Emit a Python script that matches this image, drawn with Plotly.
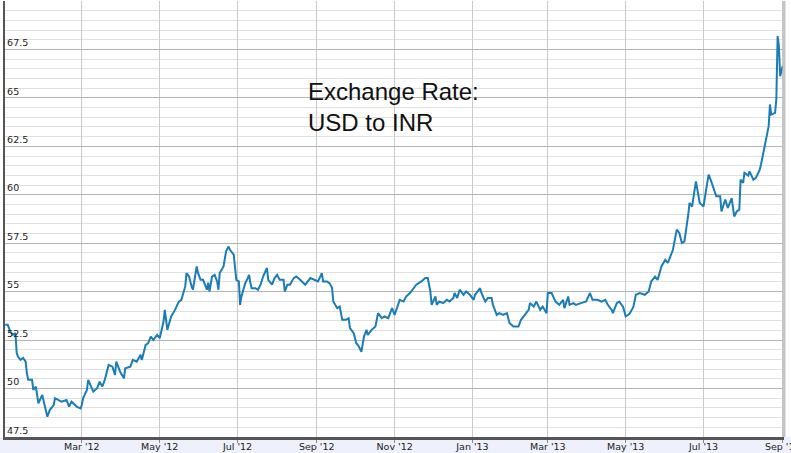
import plotly.graph_objects as go

dates = [
    "2012-01-01", "2012-01-03", "2012-01-05", "2012-01-07", "2012-01-09", "2012-01-10", "2012-01-11",
    "2012-01-13", "2012-01-15", "2012-01-17", "2012-01-18", "2012-01-19", "2012-01-22", "2012-01-23",
    "2012-01-25", "2012-01-26", "2012-01-27", "2012-01-30", "2012-01-31", "2012-02-03", "2012-02-05",
    "2012-02-08", "2012-02-09", "2012-02-12", "2012-02-14", "2012-02-18", "2012-02-20", "2012-02-22",
    "2012-02-26", "2012-02-29", "2012-03-01", "2012-03-02", "2012-03-05", "2012-03-06", "2012-03-09",
    "2012-03-10", "2012-03-13", "2012-03-15", "2012-03-17", "2012-03-19", "2012-03-22", "2012-03-25",
    "2012-03-27", "2012-03-28", "2012-03-31", "2012-04-03", "2012-04-04", "2012-04-08", "2012-04-10",
    "2012-04-13", "2012-04-16", "2012-04-17", "2012-04-20", "2012-04-22", "2012-04-24", "2012-04-26",
    "2012-04-29", "2012-05-01", "2012-05-04", "2012-05-05", "2012-05-07", "2012-05-10", "2012-05-13",
    "2012-05-16", "2012-05-18", "2012-05-21", "2012-05-22", "2012-05-24", "2012-05-26", "2012-05-27",
    "2012-05-30", "2012-05-31", "2012-06-02", "2012-06-04", "2012-06-07", "2012-06-08", "2012-06-09",
    "2012-06-11", "2012-06-13", "2012-06-15", "2012-06-16", "2012-06-17", "2012-06-20", "2012-06-22",
    "2012-06-24", "2012-06-25", "2012-06-28", "2012-06-30", "2012-07-02", "2012-07-03", "2012-07-04",
    "2012-07-07", "2012-07-09", "2012-07-10", "2012-07-11", "2012-07-12", "2012-07-15", "2012-07-17",
    "2012-07-19", "2012-07-21", "2012-07-24", "2012-07-25", "2012-07-28", "2012-07-30", "2012-08-01",
    "2012-08-03", "2012-08-06", "2012-08-07", "2012-08-09", "2012-08-11", "2012-08-14", "2012-08-16",
    "2012-08-19", "2012-08-23", "2012-08-27", "2012-08-31", "2012-09-02", "2012-09-05", "2012-09-06",
    "2012-09-09", "2012-09-11", "2012-09-13", "2012-09-14", "2012-09-17", "2012-09-19", "2012-09-21",
    "2012-09-24", "2012-09-26", "2012-09-27", "2012-09-30", "2012-10-02", "2012-10-04", "2012-10-05",
    "2012-10-06", "2012-10-08", "2012-10-10", "2012-10-11", "2012-10-14", "2012-10-17", "2012-10-19",
    "2012-10-22", "2012-10-24", "2012-10-27", "2012-10-30", "2012-11-01", "2012-11-05", "2012-11-08",
    "2012-11-10", "2012-11-13", "2012-11-16", "2012-11-18", "2012-11-22", "2012-11-25", "2012-11-27",
    "2012-11-29", "2012-11-30", "2012-12-03", "2012-12-04", "2012-12-06", "2012-12-09", "2012-12-12",
    "2012-12-14", "2012-12-17", "2012-12-18", "2012-12-20", "2012-12-22", "2012-12-25", "2012-12-27",
    "2012-12-30", "2013-01-02", "2013-01-03", "2013-01-07", "2013-01-08", "2013-01-11", "2013-01-13",
    "2013-01-16", "2013-01-17", "2013-01-20", "2013-01-22", "2013-01-25", "2013-01-28", "2013-01-30",
    "2013-02-02", "2013-02-06", "2013-02-08", "2013-02-11", "2013-02-14", "2013-02-15", "2013-02-18",
    "2013-02-20", "2013-02-23", "2013-02-25", "2013-02-28", "2013-03-01", "2013-03-04", "2013-03-07",
    "2013-03-10", "2013-03-13", "2013-03-14", "2013-03-17", "2013-03-18", "2013-03-21", "2013-03-23",
    "2013-03-27", "2013-03-31", "2013-04-03", "2013-04-05", "2013-04-09", "2013-04-12", "2013-04-15",
    "2013-04-17", "2013-04-20", "2013-04-21", "2013-04-24", "2013-04-26", "2013-04-29", "2013-05-01",
    "2013-05-04", "2013-05-07", "2013-05-09", "2013-05-12", "2013-05-16", "2013-05-19", "2013-05-21",
    "2013-05-24", "2013-05-26", "2013-05-29", "2013-06-01", "2013-06-03", "2013-06-05", "2013-06-07",
    "2013-06-10", "2013-06-12", "2013-06-14", "2013-06-16", "2013-06-19", "2013-06-20", "2013-06-22",
    "2013-06-23", "2013-06-25", "2013-06-28", "2013-07-01", "2013-07-03", "2013-07-05", "2013-07-07",
    "2013-07-09", "2013-07-11", "2013-07-14", "2013-07-15", "2013-07-18", "2013-07-20", "2013-07-23",
    "2013-07-25", "2013-07-27", "2013-07-29", "2013-07-30", "2013-08-01", "2013-08-02", "2013-08-05",
    "2013-08-06", "2013-08-09", "2013-08-11", "2013-08-14", "2013-08-15", "2013-08-18", "2013-08-19",
    "2013-08-21", "2013-08-22", "2013-08-23", "2013-08-26", "2013-08-27", "2013-08-28", "2013-08-29",
    "2013-08-30", "2013-08-31", "2013-09-01",
]

usd_inr = [
    53.29, 53.29, 52.94, 52.77, 52.87, 51.83, 51.65,
    51.48, 51.58, 51.39, 50.79, 50.45, 50.45, 49.93,
    50.10, 49.58, 49.24, 49.67, 49.41, 48.55, 48.90,
    49.15, 49.50, 49.41, 49.32, 49.41, 49.07, 49.32,
    49.07, 48.98, 49.15, 49.50, 49.93, 50.45, 49.93,
    49.84, 50.02, 50.36, 50.10, 50.45, 51.22, 51.13,
    50.70, 51.39, 50.87, 50.53, 51.05, 51.13, 51.48,
    51.39, 51.74, 51.48, 52.25, 52.34, 52.68, 52.51,
    52.77, 52.60, 53.46, 54.06, 53.03, 53.72, 54.06,
    54.49, 54.58, 55.27, 55.96, 55.78, 55.27, 55.10,
    56.30, 55.98, 55.61, 55.61, 55.10, 55.46, 55.01,
    55.78, 55.87, 55.53, 55.10, 55.96, 56.30, 57.08,
    57.33, 57.16, 56.91, 55.61, 55.53, 54.32, 54.75,
    55.44, 55.70, 55.87, 55.46, 55.18, 55.18, 55.10,
    55.36, 55.78, 56.22, 55.61, 55.36, 55.70, 55.87,
    55.61, 55.61, 55.01, 55.36, 55.36, 55.70, 55.78,
    55.61, 55.36, 55.70, 55.61, 55.53, 55.96, 55.53,
    55.53, 55.44, 55.20, 54.49, 54.15, 54.23, 53.55,
    53.55, 53.63, 53.12, 52.86, 52.34, 52.17, 52.00,
    51.89, 52.68, 53.03, 52.77, 53.03, 53.20, 53.89,
    53.63, 53.72, 53.63, 54.15, 53.80, 54.58, 54.49,
    54.75, 54.93, 55.18, 55.36, 55.53, 55.70, 55.70,
    55.01, 54.32, 54.75, 54.32, 54.49, 54.41, 54.58,
    54.49, 54.67, 54.93, 54.67, 55.10, 54.84, 55.01,
    54.84, 54.58, 54.84, 55.18, 54.93, 54.49, 54.67,
    54.67, 54.32, 53.80, 53.89, 53.80, 53.89, 53.38,
    53.20, 53.20, 53.55, 53.80, 54.06, 54.41, 54.23,
    54.49, 54.06, 54.23, 53.89, 54.93, 54.93, 54.49,
    54.32, 54.58, 54.15, 54.75, 54.32, 54.41, 54.32,
    54.41, 54.49, 54.93, 54.58, 54.58, 54.49, 54.58,
    54.32, 54.06, 53.89, 54.41, 54.49, 54.21, 53.72,
    53.86, 54.21, 54.84, 54.93, 54.84, 55.01, 55.53,
    55.78, 55.61, 56.30, 56.65, 56.48, 56.82, 57.16,
    58.20, 58.03, 57.51, 57.59, 58.97, 59.58, 59.39,
    59.75, 60.69, 59.58, 59.40, 60.27, 61.04, 60.69,
    60.35, 59.92, 59.92, 59.14, 59.75, 59.32, 59.83,
    58.88, 59.14, 59.23, 60.78, 60.61, 61.13, 60.99,
    61.21, 60.78, 60.87, 61.30, 61.56, 62.50, 62.85,
    63.54, 64.66, 64.14, 64.23, 64.92, 68.19, 67.67,
    66.12, 66.38, 66.64,
]

x_ticks = ["2012-01-01", "2012-03-01", "2012-05-01", "2012-07-01", "2012-09-01", "2012-11-01",
           "2013-01-01", "2013-03-01", "2013-05-01", "2013-07-01", "2013-09-01"]
x_tick_labels = ["Jan '12", "Mar '12", "May '12", "Jul '12", "Sep '12", "Nov '12",
                 "Jan '13", "Mar '13", "May '13", "Jul '13", "Sep '13"]
y_ticks = [47.5, 50, 52.5, 55, 57.5, 60, 62.5, 65, 67.5]
y_tick_labels = ["47.5", "50", "52.5", "55", "57.5", "60", "62.5", "65", "67.5"]
x_range = ["2011-12-31 20:00", "2013-09-02"]
y_range = [47.5, 70]
title_text = "Exchange Rate:<br>USD to INR"

fig = go.Figure()
fig.add_trace(go.Scatter(
    x=dates, y=usd_inr, mode="lines",
    line=dict(color="#1b7db5", width=2),
    hoverinfo="x+y", showlegend=False,
))

fig.update_layout(
    width=791, height=453,
    margin=dict(l=5, r=7, t=1, b=16),
    paper_bgcolor="white",
    plot_bgcolor="white",
    font=dict(family="DejaVu Sans", size=9.5, color="#222222"),
    xaxis=dict(
        type="date", range=x_range,
        tickmode="array", tickvals=x_ticks, ticktext=x_tick_labels,
        showgrid=True, gridcolor="#c9c9c9", gridwidth=1,
        showline=True, linecolor="#555555", linewidth=3,
        ticks="outside", ticklen=3, tickcolor="#888888",
        ticklabelstandoff=-4, ticklabeloverflow="allow",
        zeroline=False, automargin=False, fixedrange=True,
        tickfont=dict(size=9.5, color="#222222"),
    ),
    yaxis=dict(
        range=y_range, tickvals=y_ticks, ticktext=y_tick_labels,
        ticklabelposition="inside top", ticks="",
        showgrid=True, gridcolor="#b4b4b4", gridwidth=1,
        minor=dict(dtick=0.5, tick0=47.5, showgrid=True, gridcolor="#e0e0e0", gridwidth=1),
        showline=True, linecolor="#555555", linewidth=2,
        zeroline=False, automargin=False, fixedrange=True,
        tickfont=dict(size=9.5, color="#222222"),
    ),
    shapes=[
        dict(type="rect", xref="paper", yref="paper",
             x0=-0.01, x1=1.02, y0=-0.04, y1=0,
             fillcolor="#eef0fb", line=dict(width=0), layer="below"),
        dict(type="line", xref="paper", yref="paper",
             x0=1, x1=1, y0=0, y1=1,
             line=dict(color="#c4c4c4", width=3)),
    ],
    annotations=[
        dict(text=title_text, xref="paper", yref="paper",
             x=0.3865, y=0.827, xanchor="left", yanchor="top",
             align="left", showarrow=False,
             font=dict(family="Liberation Sans", size=24, color="#111111")),
    ],
)

fig.write_html(
    "out.html",
    config={"displayModeBar": False},
    post_script="document.body.style.margin='0';document.body.style.overflow='hidden';",
)
